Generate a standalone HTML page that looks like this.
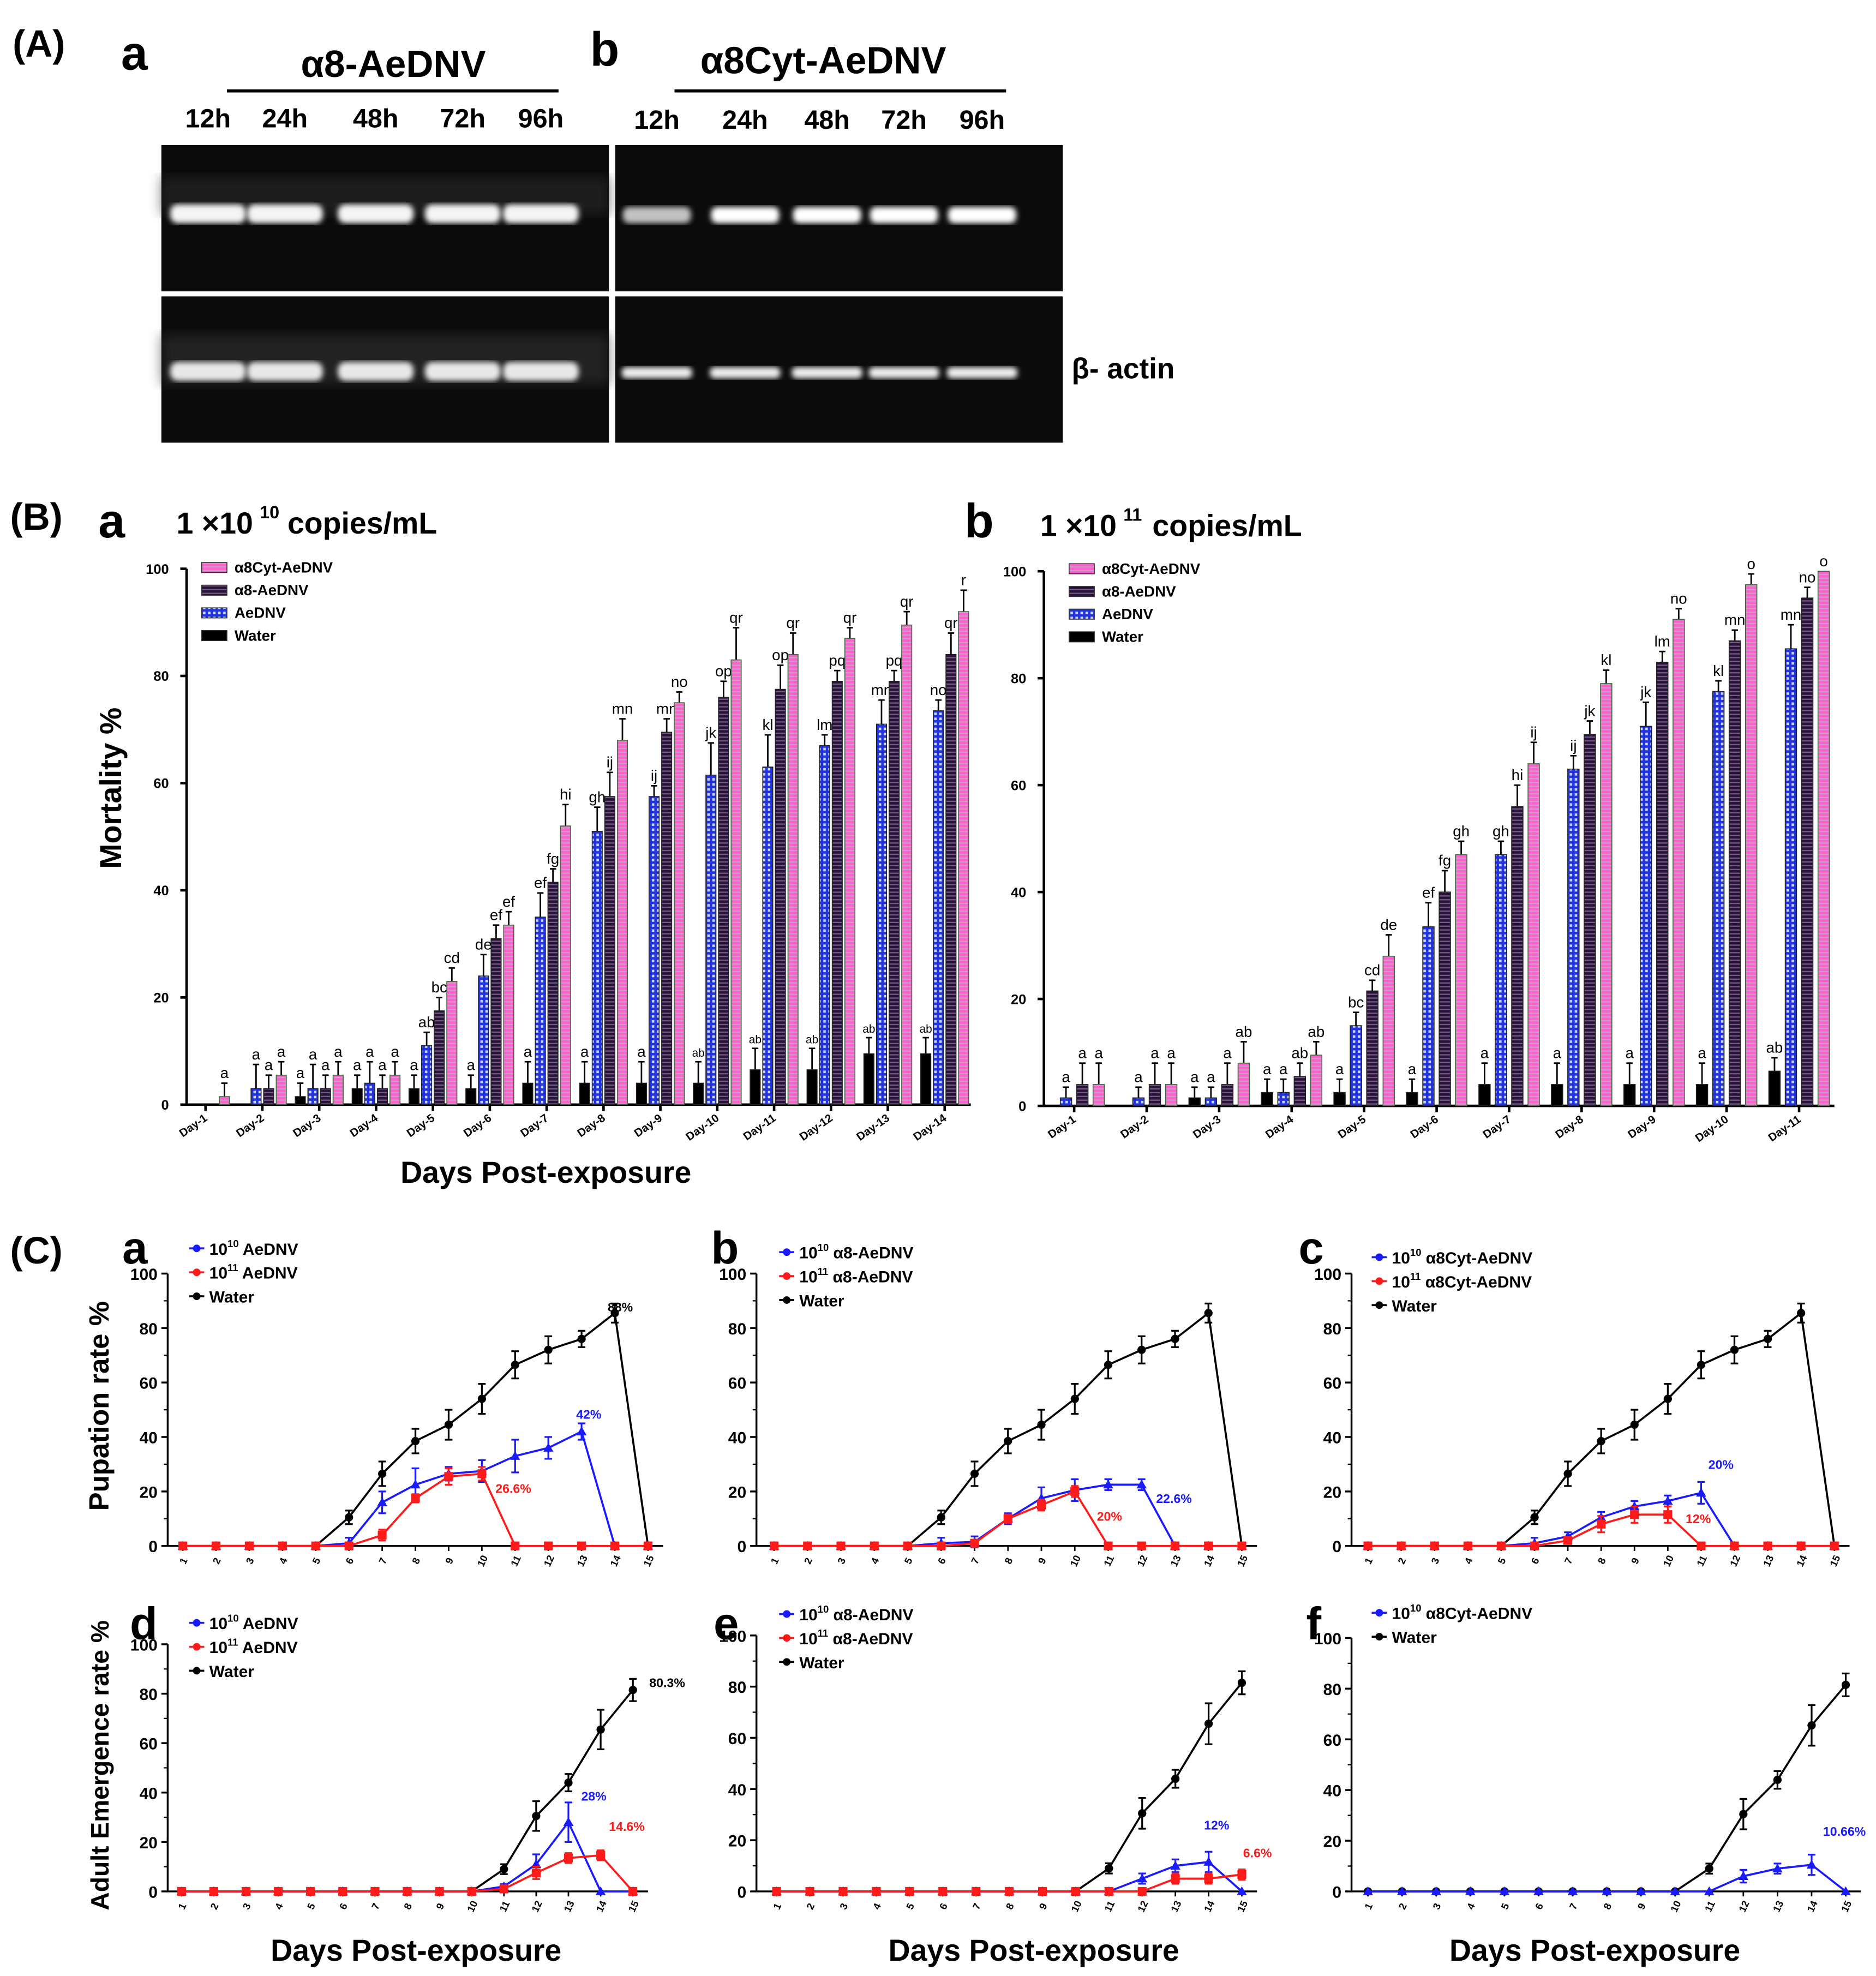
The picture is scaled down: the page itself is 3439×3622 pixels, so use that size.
<!DOCTYPE html>
<html><head><meta charset="utf-8"><style>
html,body{margin:0;padding:0;background:#fff}
svg{display:block}
text{font-family:"Liberation Sans",Arial,sans-serif}
</style></head><body>
<svg id="fig" xmlns="http://www.w3.org/2000/svg" width="3439" height="3622" viewBox="0 0 1488 1567">
<defs>
<pattern id="pPink" width="6" height="3" patternUnits="userSpaceOnUse"><rect width="6" height="3" fill="#ff5fd0"/><rect y="2" width="6" height="1" fill="#c8a0c0"/></pattern>
<pattern id="pDark" width="6" height="3" patternUnits="userSpaceOnUse"><rect width="6" height="3" fill="#24133a"/><rect y="2" width="6" height="1" fill="#7a5a80"/></pattern>
<pattern id="pBlue" width="4" height="4" patternUnits="userSpaceOnUse"><rect width="4" height="4" fill="#2233dd"/><rect x="1" y="1" width="2" height="2" fill="#c9d4ff"/></pattern>
<filter id="blur2"><feGaussianBlur stdDeviation="2.2"/></filter>
<filter id="blur5"><feGaussianBlur stdDeviation="5"/></filter>
</defs>
<g id="root"></g>
</svg>
<script>
// ===== Data: B(a) 1e10 mortality =====
const baDays = ["Day-1","Day-2","Day-3","Day-4","Day-5","Day-6","Day-7","Day-8","Day-9","Day-10","Day-11","Day-12","Day-13","Day-14"];
const baWater = [0,0,1.5,3,3,3,4,4,4,4,6.5,6.5,9.5,9.5];
const baAednv = [0,3,3,4,11,24,35,51,57.5,61.5,63,67,71,73.5];
const baA8 = [0,3,3,3,17.5,31,41.5,57.5,69.5,76,77.5,79,79,84];
const baCyt = [1.5,5.5,5.5,5.5,23,33.5,52,68,75,83,84,87,89.5,92];
const baWaterErr = [0,0,2.5,2.5,2.5,2.5,4,4,4,4,4,4,3,3];
const baAednvErr = [0,4.5,4.5,4,2.5,4,4.5,4.5,2,6,6,2,4.5,2];
const baA8Err = [0,2.5,2.5,2.5,2.5,2.5,2.5,4.5,2.5,3,4.5,2,2,4];
const baCytErr = [2.5,2.5,2.5,2.5,2.5,2.5,4,4,2,6,4,2,2.5,4];
const baLetW = ["","","a","a","a","a","a","a","a","ab","ab","ab","ab","ab"];
const baLetA = ["","a","a","a","ab","de","ef","gh","ij","jk","kl","lm","mn","no"];
const baLet8 = ["","a","a","a","bc","ef","fg","ij","mn","op","op","pq","pq","qr"];
const baLetC = ["a","a","a","a","cd","ef","hi","mn","no","qr","qr","qr","qr","r"];
// ===== Data: B(b) 1e11 mortality =====
const bbDays = ["Day-1","Day-2","Day-3","Day-4","Day-5","Day-6","Day-7","Day-8","Day-9","Day-10","Day-11"];
const bbWater = [0,0,1.5,2.5,2.5,2.5,4,4,4,4,6.5];
const bbAednv = [1.5,1.5,1.5,2.5,15,33.5,47,63,71,77.5,85.5];
const bbA8 = [4,4,4,5.5,21.5,40,56,69.5,83,87,95];
const bbCyt = [4,4,8,9.5,28,47,64,79,91,97.5,100];
const bbWaterErr = [0,0,2,2.5,2.5,2.5,4,4,4,4,2.5];
const bbAednvErr = [2,2,2,2.5,2.5,4.5,2.5,2.5,4.5,2,4.5];
const bbA8Err = [4,4,4,2.5,2,4,4,2.5,2,2,2];
const bbCytErr = [4,4,4,2.5,4,2.5,4,2.5,2,2,0];
const bbLetW = ["","","a","a","a","a","a","a","a","a","ab"];
const bbLetA = ["a","a","a","a","bc","ef","gh","ij","jk","kl","mn"];
const bbLet8 = ["a","a","a","ab","cd","fg","hi","jk","lm","mn","no"];
const bbLetC = ["a","a","ab","ab","de","gh","ij","kl","no","o","o"];
// ===== Data: C line charts =====
const cDays = [1,2,3,4,5,6,7,8,9,10,11,12,13,14,15];
const pupWater = [0,0,0,0,0,10.5,26.5,38.5,44.5,54,66.5,72,76,85.5,0];
const pupWaterErr = [0,0,0,0,0,2.5,4.5,4.5,5.5,5.5,5,5,3,3.5,0];
const caBlue = [0,0,0,0,0,1,16,22.5,26.5,27.5,33,36,42,0,0];
const caBlueErr = [0,0,0,0,0,2,4,6,2.5,4,6,4,3,0,0];
const caRed = [0,0,0,0,0,0,4,17.5,25.5,26.5,0,0,0,0,0];
const caRedErr = [0,0,0,0,0,0,2,1.5,3,2.5,0,0,0,0,0];
const cbBlue = [0,0,0,0,0,1,1.5,10,17.5,20.5,22.5,22.5,0,0,0];
const cbBlueErr = [0,0,0,0,0,2,2,2,4,4,2,2,0,0,0];
const cbRed = [0,0,0,0,0,0,1,10,15,20,0,0,0,0,0];
const cbRedErr = [0,0,0,0,0,0,1,1.5,2,2,0,0,0,0,0];
const ccBlue = [0,0,0,0,0,1,3.5,10.5,14.5,16.5,19.5,0,0,0,0];
const ccBlueErr = [0,0,0,0,0,2,1.5,2,2,2,4,0,0,0,0];
const ccRed = [0,0,0,0,0,0,2,8,11.5,11.5,0,0,0,0,0];
const ccRedErr = [0,0,0,0,0,0,1,3,3,3,0,0,0,0,0];
const emWater = [0,0,0,0,0,0,0,0,0,0,9,30.5,44,65.5,81.5];
const emWaterErr = [0,0,0,0,0,0,0,0,0,0,2,6,3.5,8,4.5];
const cdBlue = [0,0,0,0,0,0,0,0,0,0,2,11,28,0,0];
const cdBlueErr = [0,0,0,0,0,0,0,0,0,0,1,4,8,0,0];
const cdRed = [0,0,0,0,0,0,0,0,0,0,1,7.5,13.5,14.6,0];
const cdRedErr = [0,0,0,0,0,0,0,0,0,0,1,2.5,2,2,0];
const ceBlue = [0,0,0,0,0,0,0,0,0,0,0,5,10,11.5,0];
const ceBlueErr = [0,0,0,0,0,0,0,0,0,0,0,2,2.5,4,0];
const ceRed = [0,0,0,0,0,0,0,0,0,0,0,0,5,5,6.6];
const ceRedErr = [0,0,0,0,0,0,0,0,0,0,0,0,2,2,2];
const cfBlue = [0,0,0,0,0,0,0,0,0,0,0,6,9,10.5,0];
const cfBlueErr = [0,0,0,0,0,0,0,0,0,0,0,2.5,2,4,0];
const yTicks = [0,20,40,60,80,100];

const NS = "http://www.w3.org/2000/svg";
const root = document.getElementById('root');
function el(tag, attrs, parent){
  const e = document.createElementNS(NS, tag);
  for (const k in attrs) e.setAttribute(k, attrs[k]);
  (parent||root).appendChild(e);
  return e;
}
function txt(x,y,s,size,opts,parent){
  opts = opts||{};
  const t = el('text',{x:x,y:y,'font-size':size,'font-weight':opts.w||'bold','text-anchor':opts.a||'start',fill:opts.fill||'#000'},parent);
  if (opts.rot!==undefined) t.setAttribute('transform','rotate('+opts.rot+' '+x+' '+y+')');
  t.textContent = s;
  return t;
}

// ===== Part A: gel =====
let t;
t = txt(10,45,"(A)",30);


t = txt(96,55,"a",38);


t = txt(312,61,"α8-AeDNV",30,{a:'middle'});


el('line',{x1:180,y1:72,x2:443,y2:72,stroke:'#000','stroke-width':2.5});
t = txt(468,52,"b",38);


t = txt(653,58,"α8Cyt-AeDNV",30,{a:'middle'});


el('line',{x1:535,y1:72,x2:798,y2:72,stroke:'#000','stroke-width':2.5});
const laneL = [165,226,298,367,429];
const laneR = [521,591,656,717,779];
const laneLabels = ["12h","24h","48h","72h","96h"];
laneLabels.forEach((s,i)=>{
  let a = txt(laneL[i],101,s,21,{a:'middle'});
  
  
  let b = txt(laneR[i],102,s,21,{a:'middle'});
  
  
});
const gelPanels = [[128,115,355,116],[128,235,355,116],[488,115,355,116],[488,235,355,116]];
gelPanels.forEach(p=>{
  let g = el('rect',{x:p[0],y:p[1],width:p[2],height:p[3],fill:'#0b0b0b'});
  
  
});
el('rect',{x:128,y:140,width:355,height:30,fill:'#2a2a2a',filter:'url(#blur5)',opacity:0.6});
el('rect',{x:128,y:265,width:355,height:40,fill:'#333',filter:'url(#blur5)',opacity:0.6});
laneL.forEach((x,i)=>{
  el('rect',{x:x-30,y:162,width:60,height:15,rx:6,fill:'#f4f4f4',filter:'url(#blur2)'});
  el('rect',{x:x-30,y:287,width:60,height:15,rx:6,fill:'#e8e8e8',filter:'url(#blur2)'});
});
const topBright = [0.75,1,1,1,1.2];
laneR.forEach((x,i)=>{
  el('rect',{x:x-27,y:164,width:54,height:13,rx:5,fill:'#fff',opacity:Math.min(1,topBright[i]),filter:'url(#blur2)'});
  el('rect',{x:x-28,y:291,width:56,height:9,rx:4,fill:'#eee',filter:'url(#blur2)'});
});
t = txt(850,300,"β- actin",23);



// ===== Part B =====
t = txt(8,420,"(B)",30);


t = txt(78,426,"a",38);


t = txt(140,423,"1 ×10",24);


txt(206,411,"10",14);
txt(228,423,"copies/mL",24);
t = txt(765,426,"b",38);


t = txt(825,425,"1 ×10",24);


txt(891,413,"11",14);
txt(914,425,"copies/mL",24);
t = txt(96,625,"Mortality %",24,{a:'middle',rot:-90});


t = txt(433,938,"Days Post-exposure",24,{a:'middle'});



function barChart(cfg){
  const g = el('g',{});
  
  
  const ys = v => cfg.y0 - (cfg.y0-cfg.y100)*v/100;
  const xc = i => cfg.c0 + i*cfg.step;
  el('line',{x1:cfg.ax,y1:cfg.y100,x2:cfg.ax,y2:cfg.y0,stroke:'#000','stroke-width':2},g);
  el('line',{x1:cfg.ax,y1:cfg.y0,x2:cfg.axEnd,y2:cfg.y0,stroke:'#000','stroke-width':2},g);
  yTicks.forEach(v=>{
    el('line',{x1:cfg.ax-5,y1:ys(v),x2:cfg.ax,y2:ys(v),stroke:'#000','stroke-width':2},g);
    let tl = txt(cfg.ax-14,ys(v)+4,String(v),11,{a:'end'},g);
    
    
  });
  const fills = ['#000','url(#pBlue)','url(#pDark)','url(#pPink)'];
  const names = ['bar-water','bar-aednv','bar-a8-aednv','bar-a8cyt-aednv'];
  cfg.days.forEach((d,i)=>{
    const c = xc(i);
    el('line',{x1:c,y1:cfg.y0,x2:c,y2:cfg.y0+5,stroke:'#000','stroke-width':2},g);
    let dl = txt(c+2,cfg.y0+12,d,9,{a:'end',rot:-35},g);
    
    
    cfg.series.forEach((s,k)=>{
      const v = s[i];
      const bx = c + (k-1.5)*cfg.bs - cfg.bw/2;
      if (v>0){
        const e = cfg.errs[k][i];
        if (e>0){
          el('line',{x1:bx+cfg.bw/2,y1:ys(v),x2:bx+cfg.bw/2,y2:ys(v+e),stroke:'#000','stroke-width':1.2},g);
          el('line',{x1:bx+cfg.bw/2-2.5,y1:ys(v+e),x2:bx+cfg.bw/2+2.5,y2:ys(v+e),stroke:'#000','stroke-width':1.2},g);
        }
        const r = el('rect',{x:bx,y:ys(v),width:cfg.bw,height:ys(0)-ys(v),fill:fills[k],stroke:k===3?'#3a6a3a':'#222','stroke-width':0.7},g);
        
        
      }
      const L = cfg.lets[k][i];
      if (L){
        const lt = txt(bx+cfg.bw/2, ys(v+cfg.errs[k][i])-4, L, L.length>1&&cfg.small&&k===0?9:12, {a:'middle',w:'normal'}, g);
        
        
      }
    });
  });
  const lg = [['α8Cyt-AeDNV','url(#pPink)'],['α8-AeDNV','url(#pDark)'],['AeDNV','url(#pBlue)'],['Water','#000']];
  lg.forEach((l,k)=>{
    const yy = cfg.legY + k*18;
    el('rect',{x:cfg.legX,y:yy-8,width:20,height:8,fill:l[1],stroke:'#333','stroke-width':0.7},g);
    const tl = txt(cfg.legX+26,yy,l[0],12,{},g);
    
    
  });
}
barChart({name:'chart-ba-mortality',ax:148,axEnd:770,y0:876,y100:451,c0:163,step:45.1,bs:10,bw:8,days:baDays,
  series:[baWater,baAednv,baA8,baCyt],errs:[baWaterErr,baAednvErr,baA8Err,baCytErr],lets:[baLetW,baLetA,baLet8,baLetC],
  legX:160,legY:454,small:true});
barChart({name:'chart-bb-mortality',ax:828,axEnd:1455,y0:877,y100:453,c0:852,step:57.5,bs:13,bw:9,days:bbDays,
  series:[bbWater,bbAednv,bbA8,bbCyt],errs:[bbWaterErr,bbAednvErr,bbA8Err,bbCytErr],lets:[bbLetW,bbLetA,bbLet8,bbLetC],
  legX:848,legY:455,small:false});

// ===== Part C =====
t = txt(8,1002,"(C)",30);


t = txt(86,1115,"Pupation rate %",22,{a:'middle',rot:-90});


t = txt(86,1400,"Adult Emergence rate %",20,{a:'middle',rot:-90});


[[330,1555],[820,1555],[1265,1555]].forEach(p=>{
  const a = txt(p[0],p[1],"Days Post-exposure",24,{a:'middle'});
  
  
});

function lineChart(cfg){
  const g = el('g',{});
  
  
  const ys = v => cfg.y0 - (cfg.y0-cfg.y100)*v/100;
  const xs = d => cfg.x1 + (d-1)*(cfg.x15-cfg.x1)/14;
  const lt = txt(cfg.letX,cfg.letY,cfg.letter,36,{},g);
  
  
  el('line',{x1:cfg.ax,y1:cfg.y100,x2:cfg.ax,y2:cfg.y0,stroke:'#000','stroke-width':1.5},g);
  el('line',{x1:cfg.ax,y1:cfg.y0,x2:cfg.x15+12,y2:cfg.y0,stroke:'#000','stroke-width':1.5},g);
  yTicks.forEach(v=>{
    el('line',{x1:cfg.ax-5,y1:ys(v),x2:cfg.ax,y2:ys(v),stroke:'#000','stroke-width':1.5},g);
    const tl = txt(cfg.ax-8,ys(v)+5,String(v),13,{a:'end'},g);
    
    
    if (v<100){
      el('line',{x1:cfg.ax-3,y1:ys(v+10),x2:cfg.ax,y2:ys(v+10),stroke:'#000','stroke-width':1},g);
    }
  });
  cDays.forEach(d=>{
    el('line',{x1:xs(d),y1:cfg.y0,x2:xs(d),y2:cfg.y0+4,stroke:'#000','stroke-width':1.2},g);
    const tl = txt(xs(d)+3,cfg.y0+13,String(d),8,{a:'middle',rot:-65},g);
    
    
  });
  cfg.series.forEach(s=>{
    let pts = s.vals.map((v,i)=>xs(cDays[i])+','+ys(v)).join(' ');
    const pl = el('polyline',{points:pts,fill:'none',stroke:s.color,'stroke-width':1.6},g);
    
    
    s.vals.forEach((v,i)=>{
      const x = xs(cDays[i]), y = ys(v), e = s.err[i];
      if (e>0){
        el('line',{x1:x,y1:ys(v-e),x2:x,y2:ys(v+e),stroke:s.color,'stroke-width':1.4},g);
        el('line',{x1:x-3,y1:ys(v+e),x2:x+3,y2:ys(v+e),stroke:s.color,'stroke-width':1.4},g);
        el('line',{x1:x-3,y1:ys(v-e),x2:x+3,y2:ys(v-e),stroke:s.color,'stroke-width':1.4},g);
      }
      let m;
      if (s.marker==='sq') m = el('rect',{x:x-3.5,y:y-3.5,width:7,height:7,fill:s.color},g);
      else if (s.marker==='tri') m = el('polygon',{points:(x)+','+(y-4)+' '+(x-4)+','+(y+3)+' '+(x+4)+','+(y+3),fill:s.color},g);
      else m = el('circle',{cx:x,cy:y,r:3.3,fill:s.color},g);
      
      
    });
  });
  cfg.legend.forEach((l,k)=>{
    const yy = cfg.legY + k*19;
    el('line',{x1:cfg.legX,y1:yy-5,x2:cfg.legX+12,y2:yy-5,stroke:l[1],'stroke-width':1.6},g);
    el('circle',{cx:cfg.legX+6,cy:yy-5,r:3,fill:l[1]},g);
    const tt = el('text',{x:cfg.legX+16,y:yy,'font-size':13,'font-weight':'bold'},g);
    
    
    if (l[2]){
      tt.appendChild(document.createTextNode(l[2]));
      const sp = document.createElementNS(NS,'tspan');
      sp.setAttribute('font-size','8');
      sp.setAttribute('dy','-6');
      sp.textContent = l[3];
      tt.appendChild(sp);
      const sp2 = document.createElementNS(NS,'tspan');
      sp2.setAttribute('dy','6');
      sp2.textContent = l[0];
      tt.appendChild(sp2);
    } else tt.textContent = l[0];
  });
  cfg.notes.forEach(n=>{
    const a = txt(n[0],n[1],n[2],10,{fill:n[3]},g);
    
    
  });
}
const B='#1a1aff', R='#ff1a1a', K='#000';
lineChart({name:'chart-ca-pupation',letter:'a',letX:97,letY:1002,ax:133,x1:145,x15:514,y0:1226,y100:1010,
  series:[{vals:pupWater,err:pupWaterErr,color:K,marker:'c',name:'line-water'},{vals:caBlue,err:caBlueErr,color:B,marker:'tri',name:'line-1e10'},{vals:caRed,err:caRedErr,color:R,marker:'sq',name:'line-1e11'}],
  legX:150,legY:995,legend:[[' AeDNV',B,'10','10'],[' AeDNV',R,'10','11'],['Water',K]],
  notes:[[482,1040,'88%',K],[457,1125,'42%',B],[393,1184,'26.6%',R]]});
lineChart({name:'chart-cb-pupation',letter:'b',letX:564,letY:1002,ax:600,x1:614,x15:985,y0:1226,y100:1010,
  series:[{vals:pupWater,err:pupWaterErr,color:K,marker:'c',name:'line-water'},{vals:cbBlue,err:cbBlueErr,color:B,marker:'tri',name:'line-1e10'},{vals:cbRed,err:cbRedErr,color:R,marker:'sq',name:'line-1e11'}],
  legX:618,legY:998,legend:[[' α8-AeDNV',B,'10','10'],[' α8-AeDNV',R,'10','11'],['Water',K]],
  notes:[[870,1206,'20%',R],[917,1192,'22.6%',B]]});
lineChart({name:'chart-cc-pupation',letter:'c',letX:1030,letY:1002,ax:1072,x1:1085,x15:1455,y0:1226,y100:1010,
  series:[{vals:pupWater,err:pupWaterErr,color:K,marker:'c',name:'line-water'},{vals:ccBlue,err:ccBlueErr,color:B,marker:'tri',name:'line-1e10'},{vals:ccRed,err:ccRedErr,color:R,marker:'sq',name:'line-1e11'}],
  legX:1088,legY:1002,legend:[[' α8Cyt-AeDNV',B,'10','10'],[' α8Cyt-AeDNV',R,'10','11'],['Water',K]],
  notes:[[1355,1165,'20%',B],[1337,1208,'12%',R]]});
lineChart({name:'chart-cd-emergence',letter:'d',letX:103,letY:1300,ax:133,x1:144,x15:502,y0:1500,y100:1304,
  series:[{vals:emWater,err:emWaterErr,color:K,marker:'c',name:'line-water'},{vals:cdBlue,err:cdBlueErr,color:B,marker:'tri',name:'line-1e10'},{vals:cdRed,err:cdRedErr,color:R,marker:'sq',name:'line-1e11'}],
  legX:150,legY:1292,legend:[[' AeDNV',B,'10','10'],[' AeDNV',R,'10','11'],['Water',K]],
  notes:[[515,1338,'80.3%',K],[461,1428,'28%',B],[483,1452,'14.6%',R]]});
lineChart({name:'chart-ce-emergence',letter:'e',letX:566,letY:1300,ax:600,x1:616,x15:985,y0:1500,y100:1297,
  series:[{vals:emWater,err:emWaterErr,color:K,marker:'c',name:'line-water'},{vals:ceBlue,err:ceBlueErr,color:B,marker:'tri',name:'line-1e10'},{vals:ceRed,err:ceRedErr,color:R,marker:'sq',name:'line-1e11'}],
  legX:618,legY:1285,legend:[[' α8-AeDNV',B,'10','10'],[' α8-AeDNV',R,'10','11'],['Water',K]],
  notes:[[955,1451,'12%',B],[986,1473,'6.6%',R]]});
lineChart({name:'chart-cf-emergence',letter:'f',letX:1036,letY:1300,ax:1072,x1:1085,x15:1464,y0:1500,y100:1299,
  series:[{vals:emWater,err:emWaterErr,color:K,marker:'c',name:'line-water'},{vals:cfBlue,err:cfBlueErr,color:B,marker:'tri',name:'line-1e10'}],
  legX:1088,legY:1284,legend:[[' α8Cyt-AeDNV',B,'10','10'],['Water',K]],
  notes:[[1446,1456,'10.66%',B]]});
</script>
</body></html>
